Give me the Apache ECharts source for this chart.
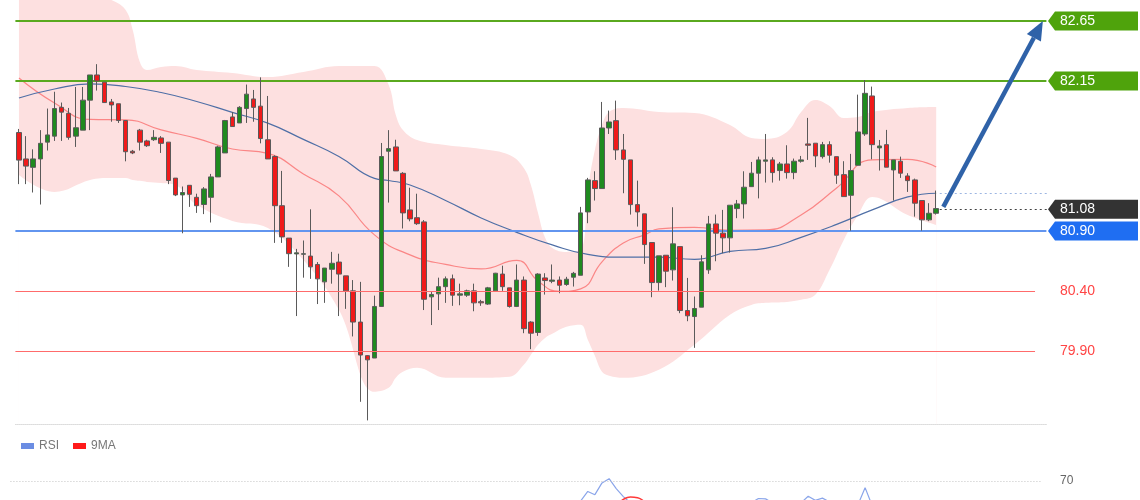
<!DOCTYPE html>
<html><head><meta charset="utf-8">
<script src="https://cdn.jsdelivr.net/npm/echarts@6.0.0/dist/echarts.min.js"></script>
<style>html,body{margin:0;padding:0;background:#fff}#c{width:1140px;height:500px}</style>
</head><body><div id="c"></div>
<script>
// ---- candle data ----
const opens = [81.72,81.50,81.43,81.50,81.64,81.69,81.93,81.88,81.69,81.74,
81.99,82.20,82.14,81.975,81.96,81.82,81.564,81.74,81.65,81.66,
81.675,81.64,81.34,81.20,81.28,81.18,81.12,81.18,81.35,81.55,
81.85,81.80,81.92,82.00,81.94,81.66,81.52,81.11,80.84,80.708,
80.705,80.69,80.62,80.475,80.58,80.64,80.525,80.40,80.14,79.86,
79.84,80.27,81.564,81.60,81.38,81.075,81.01,80.975,80.35,80.375,
80.435,80.50,80.364,80.364,80.40,80.31,80.29,80.40,80.54,80.425,
80.27,80.49,80.14,80.053,80.508,80.48,80.49,80.453,80.514,80.53,
81.058,81.319,81.253,81.758,81.819,81.575,81.492,81.119,81.042,80.803,
80.469,80.697,80.575,80.769,80.236,80.186,80.264,80.575,80.958,80.881,
80.842,81.086,81.125,81.269,81.381,81.481,81.492,81.403,81.458,81.386,
81.481,81.625,81.631,81.519,81.619,81.519,81.369,81.197,81.447,81.708,
82.025,81.592,81.619,81.408,81.481,81.358,81.325,81.153,80.992,81.047];
const closes = [81.49,81.44,81.50,81.63,81.70,81.92,81.89,81.68,81.76,81.99,
82.20,82.15,81.97,81.95,81.82,81.56,81.55,81.64,81.61,81.68,
81.63,81.32,81.20,81.22,81.205,81.11,81.25,81.35,81.60,81.82,
81.77,81.93,82.04,81.93,81.67,81.50,81.11,80.85,80.71,80.717,
80.71,80.60,80.50,80.59,80.63,80.54,80.40,80.14,79.865,79.825,
80.27,81.52,81.586,81.40,81.05,81.00,80.96,80.33,80.37,80.435,
80.50,80.364,80.375,80.40,80.30,80.30,80.425,80.547,80.435,80.27,
80.49,80.085,80.047,80.54,80.486,80.49,80.447,80.497,80.546,81.05,
81.325,81.253,81.758,81.808,81.575,81.497,81.119,81.058,80.786,80.469,
80.692,80.564,80.792,80.236,80.192,80.253,80.642,80.958,80.881,80.842,
81.114,81.125,81.264,81.381,81.492,81.492,81.386,81.458,81.386,81.481,
81.492,81.614,81.525,81.619,81.531,81.364,81.186,81.403,81.725,82.047,
81.619,81.608,81.431,81.492,81.381,81.319,81.131,80.992,81.047,81.086];
const lows = [81.29,81.29,81.22,81.12,81.57,81.65,81.65,81.66,81.60,81.74,
81.74,82.07,81.97,81.81,81.80,81.48,81.54,81.57,81.60,81.65,
81.55,81.29,81.19,80.88,81.10,81.05,81.04,80.97,81.35,81.55,
81.77,81.80,81.80,81.81,81.63,81.50,80.80,80.80,80.60,80.19,
80.51,80.50,80.29,80.30,80.46,80.19,80.25,80.02,79.475,79.32,
79.84,80.27,81.136,81.40,80.92,80.98,80.95,80.24,80.115,80.24,
80.30,80.275,80.28,80.35,80.23,80.275,80.283,80.40,80.40,80.26,
80.265,80.047,79.914,80.025,80.369,80.464,80.38,80.442,80.436,80.53,
80.964,81.153,81.253,81.708,81.492,81.214,81.036,80.936,80.625,80.347,
80.402,80.431,80.486,80.214,80.147,79.925,80.264,80.542,80.647,80.714,
80.719,81.006,81.003,81.269,81.171,81.303,81.303,81.319,81.336,81.331,
81.469,81.492,81.431,81.503,81.469,81.292,81.186,80.902,81.447,81.692,
81.497,81.403,81.431,81.153,81.342,81.225,81.019,80.902,80.981,81.036];
const highs = [81.75,81.69,81.58,81.74,81.92,82.06,81.97,81.925,82.10,82.10,
82.20,82.29,82.14,82.00,81.96,81.82,81.575,81.75,81.66,81.74,
81.69,81.64,81.34,81.27,81.28,81.21,81.265,81.375,81.61,81.825,
81.89,81.94,82.12,82.075,82.18,82.025,81.53,81.40,80.84,80.75,
80.82,81.08,80.64,80.59,80.725,80.71,80.525,80.49,80.475,79.865,
80.36,81.633,81.74,81.66,81.39,81.26,81.21,80.99,80.39,80.51,
80.52,80.536,80.46,80.41,80.46,80.325,80.433,80.55,80.61,80.425,
80.62,80.52,80.147,80.547,80.547,80.62,80.52,80.517,80.558,81.10,
81.342,81.397,81.975,81.903,81.986,81.708,81.492,81.319,81.042,80.803,
80.692,80.697,81.097,80.769,80.508,80.353,80.697,81.025,81.036,81.075,
81.114,81.158,81.397,81.475,81.519,81.708,81.514,81.475,81.614,81.503,
81.525,81.842,81.631,81.642,81.647,81.519,81.481,81.542,82.036,82.158,
82.103,81.658,81.742,81.492,81.519,81.381,81.336,81.153,81.131,81.236];

// ---- overlays (candle index -> value) ----
const blueIdx = [0,5,10,15,20,25,30,35,40,45,50,52,55,60,65,70,75,80,85,90,95,100,105,110,115,120,125,129];
const blueMA  = [82.008,82.083,82.125,82.104,82.054,81.979,81.888,81.798,81.663,81.521,81.338,81.32,81.283,81.154,81.008,80.888,80.783,80.704,80.681,80.681,80.663,80.729,80.754,80.846,80.954,81.075,81.183,81.214];
const redIdx = [0,5,10,15,20,25,30,35,40,45,50,55,60,65,70,73,76,79,82,85,88,90,95,100,105,110,115,120,125,129];
const redMA  = [82.175,81.967,81.829,81.826,81.742,81.671,81.583,81.546,81.375,81.192,80.867,80.700,80.621,80.583,80.654,80.483,80.396,80.417,80.642,80.800,80.867,80.917,80.929,80.904,80.908,81.033,81.258,81.492,81.496,81.433];
const bandIdx = [0,5,10,13,15,16,17,18,20,22,25,30,35,40,45,50,52,53,54,56,60,65,69,71,72,73,74,75,77,79,80,81,82,83,85,90,95,100,103,105,108,110,112,114,116,118,120,125,129];
const bandUpper = [82.908,82.892,82.867,82.825,82.742,82.575,82.308,82.242,82.267,82.275,82.242,82.217,82.183,82.225,82.275,82.275,82.117,81.867,81.742,81.658,81.617,81.583,81.533,81.425,81.283,81.05,80.842,80.758,80.725,80.742,81.242,81.575,81.783,81.892,81.925,81.892,81.883,81.783,81.675,81.667,81.725,81.892,81.992,81.942,81.842,81.85,81.892,81.925,81.933];
const bandLower = [81.367,81.225,81.325,81.342,81.342,81.325,81.317,81.308,81.3,81.283,81.117,80.983,80.925,80.658,80.242,79.558,79.592,79.675,79.725,79.758,79.675,79.675,79.683,79.783,79.867,79.95,80.008,80.042,80.1,80.117,79.992,79.858,79.725,79.692,79.675,79.742,79.95,80.2,80.283,80.3,80.308,80.325,80.367,80.575,80.825,81.033,81.183,81.033,80.95];

// ---- RSI panel (visible part only) ----
const rsiIdx = [78,79,80,81,82,83,84,85,86, 102,103,104,105,106,107, 109,110,111,112,113,114,115, 117,118,119,120,121];
const rsiVal = [55,59.5,64.5,62.8,69,71.2,66,61.8,58.5, 55,58.5,60.8,60.6,58.5,55, 55,58.5,62,59.8,61,59,55, 53,57.5,66.5,57,52];
const ma9Idx = [83,84,85,86,87,88,89];
const ma9Val = [55,57,60.3,61.6,61.2,59,56];

// ---- levels ----
const resistLevels = [82.65, 82.15];
const pivotLevel = 80.90;
const supportLevels = [80.40, 79.90];
const lastPrice = 81.08;
const rsiLevel = 70;
const arrowFrom = [130, 81.10];
const arrowTo = [144, 82.65];

const SLOTS = 145;
const cats = Array.from({length: SLOTS}, (_, i) => String(i + 1));
const candleData = opens.map((o, i) => [o, closes[i], lows[i], highs[i]]);
const pairs = (ix, vs) => ix.map((x, k) => [x, vs[k]]);
function withGaps(ix, vs) {
  const out = [];
  ix.forEach((x, k) => {
    if (k > 0 && x - ix[k - 1] > 1) out.push([x - 0.5, null]);
    out.push([x, vs[k]]);
  });
  return out;
}

const chart = echarts.init(document.getElementById('c'), null, {renderer: 'canvas'});
const FONT = 'Liberation Sans, Arial, sans-serif';
const GL = 15.4, GW = 1031;

const lvlLine = (v, color, width, x1) => [
  {coord: [-0.5, v], lineStyle: {color, width, type: 'solid'}},
  {coord: [x1, v]}
];

const option = {
  animation: false,
  backgroundColor: '#ffffff',
  textStyle: {fontFamily: FONT},
  legend: {
    data: ['RSI', '9MA'], left: 16, top: 435, icon: 'rect',
    itemWidth: 13, itemHeight: 6, itemGap: 14,
    textStyle: {color: '#777', fontSize: 12, fontFamily: FONT}
  },
  grid: [
    {left: GL, top: 0, width: GW, height: 424},
    {left: GL, top: 462, width: GW, height: 38}
  ],
  xAxis: [
    {type: 'category', gridIndex: 0, data: cats, boundaryGap: true,
     axisLabel: {show: false}, axisTick: {show: false},
     axisLine: {show: true, lineStyle: {color: '#dcdcdc', type: 'dotted'}}, splitLine: {show: false}},
    {type: 'value', gridIndex: 0, min: -0.5, max: SLOTS - 0.5, show: false},
    {type: 'value', gridIndex: 1, min: -0.5, max: SLOTS - 0.5, show: false}
  ],
  yAxis: [
    {type: 'value', gridIndex: 0, min: 79.29, max: 82.825, show: false, splitLine: {show: false}},
    {type: 'value', gridIndex: 1, min: 60, max: 80, show: false, splitLine: {show: false}}
  ],
  series: [
    {name: 'bbUpper', type: 'line', xAxisIndex: 1, yAxisIndex: 0, smooth: 0.4,
     symbol: 'none', lineStyle: {opacity: 0}, areaStyle: {color: '#fde0e0', opacity: 1, origin: 'start'},
     data: pairs(bandIdx, bandUpper), z: 1, silent: true},
    {name: 'bbLower', type: 'line', xAxisIndex: 1, yAxisIndex: 0, smooth: 0.4,
     symbol: 'none', lineStyle: {opacity: 0}, areaStyle: {color: '#ffffff', opacity: 1, origin: 'start'},
     data: pairs(bandIdx, bandLower), z: 2, silent: true},
    {name: 'red', type: 'line', xAxisIndex: 1, yAxisIndex: 0, smooth: 0.5, symbol: 'none',
     lineStyle: {color: 'rgba(250,95,95,0.7)', width: 1.2}, data: pairs(redIdx, redMA), z: 3},
    {name: 'blue', type: 'line', xAxisIndex: 1, yAxisIndex: 0, smooth: 0.5, symbol: 'none',
     lineStyle: {color: '#4f6fa6', width: 1.2}, data: pairs(blueIdx, blueMA), z: 3,
     markLine: {
       silent: true, symbol: ['none', 'none'], label: {show: false}, animation: false,
       data: [
         ...resistLevels.map(v => lvlLine(v, '#5aa91f', 2, SLOTS - 0.5)),
         lvlLine(pivotLevel, '#6295ef', 2, SLOTS - 0.5)
       ]
     }},
    {name: 'price', type: 'candlestick', xAxisIndex: 0, yAxisIndex: 0, data: candleData,
     barWidth: 5, z: 5,
     itemStyle: {color: '#1f8a1f', color0: '#f01a1a', borderColor: '#5a5a5a', borderColor0: '#5a5a5a', borderColorDoji: '#5a5a5a', borderWidth: 1}},
    {name: 'RSI', type: 'line', xAxisIndex: 2, yAxisIndex: 1, smooth: false, symbol: 'none',
     color: '#6b8de3', lineStyle: {color: '#8aa5ea', width: 1.2}, data: withGaps(rsiIdx, rsiVal)},
    {name: '9MA', type: 'line', xAxisIndex: 2, yAxisIndex: 1, smooth: 0.5, symbol: 'none',
     color: '#ff1a1a', lineStyle: {color: '#ff3a3a', width: 1.5}, data: pairs(ma9Idx, ma9Val)}
  ]
};
chart.setOption(option);

// ---- annotations positioned through the axes ----
const px = (x, v) => chart.convertToPixel({xAxisIndex: 1, yAxisIndex: 0}, [x, v]);
const pxR = (x, v) => chart.convertToPixel({xAxisIndex: 2, yAxisIndex: 1}, [x, v]);
const g = [];
const TAG_TIP = 1048, TAG_L = 1055, TAG_R = 1138, TAG_H = 19;
function tag(v, color) {
  const y = px(0, v)[1];
  g.push({type: 'polygon', z: 100, shape: {points: [[TAG_TIP, y], [TAG_L, y - TAG_H / 2], [TAG_R, y - TAG_H / 2], [TAG_R, y + TAG_H / 2], [TAG_L, y + TAG_H / 2]]}, style: {fill: color}});
  g.push({type: 'text', z: 101, x: 1060, y: y, style: {text: v.toFixed(2), fill: '#fff', font: '14px ' + FONT, verticalAlign: 'middle'}});
}
function hline(p0, p1, color, width, dash) {
  const y = Math.round(p0[1]) + 0.5;
  g.push({type: 'line', z: 90, shape: {x1: p0[0], y1: y, x2: p1[0], y2: y}, style: {stroke: color, lineWidth: width, lineDash: dash || null}});
}
hline(px(129.5, blueMA[blueMA.length - 1]), px(144.6, 0), '#9db6e2', 1, [2, 3]);
hline(px(129.5, lastPrice), px(144.6, 0), '#444', 1, [2, 3]);
supportLevels.forEach(v => {
  const a = px(-0.5, v), b = px(142.9, v);
  const y = Math.round(a[1]);
  g.push({type: 'rect', z: 90, shape: {x: a[0], y: y, width: b[0] - a[0], height: 1}, style: {fill: '#ff6b6b'}});
  g.push({type: 'text', z: 101, x: 1060, y: a[1], style: {text: v.toFixed(2), fill: '#ff4545', font: '14px ' + FONT, verticalAlign: 'middle'}});
});
resistLevels.forEach(v => tag(v, '#4fa30c'));
tag(lastPrice, '#333333');
tag(pivotLevel, '#1f6ef2');
// RSI 70 level
{
  const a = pxR(-1.2, rsiLevel), b = pxR(143.8, rsiLevel);
  hline(a, b, '#c4c4c4', 1, [1, 2]);
  g.push({type: 'text', z: 101, x: 1060, y: a[1], style: {text: String(rsiLevel), fill: '#666', font: '12px ' + FONT, verticalAlign: 'middle'}});
}
// arrow
const p0 = px(arrowFrom[0], arrowFrom[1]), p1 = px(arrowTo[0], arrowTo[1]);
const dx = p1[0] - p0[0], dy = p1[1] - p0[1], len = Math.hypot(dx, dy);
const ux = dx / len, uy = dy / len, L = 19, W = 8;
const bx = p1[0] - ux * L, by = p1[1] - uy * L;
g.push({type: 'line', z: 95, shape: {x1: p0[0], y1: p0[1], x2: bx, y2: by}, style: {stroke: '#2f62a8', lineWidth: 4.5}});
g.push({type: 'polygon', z: 95, shape: {points: [[p1[0], p1[1]], [bx - uy * W, by + ux * W], [bx + uy * W, by - ux * W]]}, style: {fill: '#2f62a8'}});

chart.setOption({graphic: g});
</script>
</body></html>
